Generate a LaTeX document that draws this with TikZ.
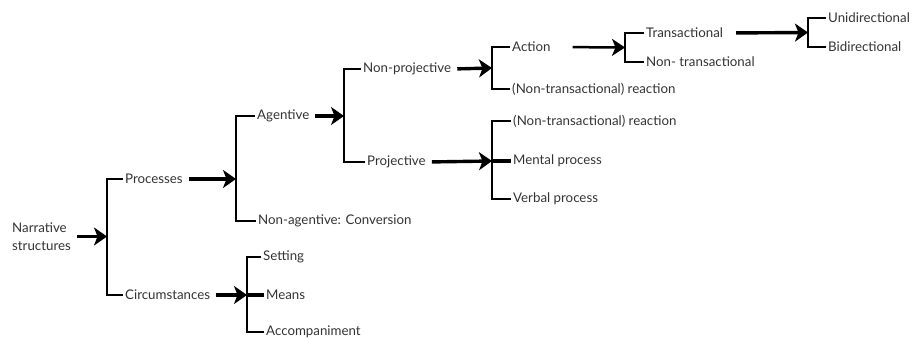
\documentclass[tikz,border=0pt]{standalone}
\usepackage{fontspec}
\setmainfont{Lato}
\usetikzlibrary{arrows.meta}
\begin{document}
\begin{tikzpicture}[x=1pt,y=-1pt,
  lbl/.style={anchor=west, inner sep=2pt, text=black!80, font=\fontsize{13.3}{18}\selectfont},
  brk/.style={line width=2.1pt},
  arr/.style={line width=3.4pt, -{Stealth[length=13pt,width=18pt,inset=3.5pt]}, shorten <=4pt},
  thinarr/.style={line width=2.5pt, -{Stealth[length=13pt,width=17pt,inset=3.5pt]}}]
\useasboundingbox (0,0) rectangle (915,339);
\node[lbl, align=left] (narr) at (10,236.5){Narrative\\structures};
\coordinate (b1) at (107,236.5);
\node[lbl] (proc) at (123,179){Processes};
\node[lbl] (circ) at (123,295){Circumstances};
\draw[brk](proc.west) -| (b1) |- (circ.west);
\draw[arr](narr.east) -- (b1);
\coordinate (b2) at (236,179);
\node[lbl] (agent) at (255,116){Agentive};
\node[lbl] (nonag) at (256,221){Non-agentive: Conversion};
\draw[brk](agent.west) -| (b2) |- (nonag.west);
\draw[arr](proc.east) -- (b2);
\coordinate (b8) at (247,295);
\node[lbl] (sett) at (261,257){Setting};
\node[lbl] (means) at (264,295){Means};
\node[lbl] (accomp) at (264,332){Accompaniment};
\draw[brk](sett.west) -| (b8) |- (accomp.west);
\draw[line width=3.4pt](b8) -- (means.west);
\draw[arr](circ.east) -- (b8);
\coordinate (b3) at (344,116);
\node[lbl] (nonproj) at (361,69){Non-projective};
\node[lbl] (proj) at (365,162){Projective};
\draw[brk](nonproj.west) -| (b3) |- (proj.west);
\draw[arr](agent.east) -- (b3);
\coordinate (b4) at (492,68);
\node[lbl] (action) at (510,47){Action};
\node[lbl] (react1) at (510,89){(Non-transactional) reaction};
\draw[brk](action.west) -| (b4) |- (react1.west);
\draw[arr](nonproj.east) -- (b4);
\coordinate (b5) at (492,161);
\node[lbl] (react2) at (511,121){(Non-transactional) reaction};
\node[lbl] (mental) at (511,161){Mental process};
\node[lbl] (verbal) at (511,199){Verbal process};
\draw[brk](react2.west) -| (b5) |- (verbal.west);
\draw[line width=3.4pt](b5) -- (mental.west);
\draw[arr](proj.east) -- (b5);
\coordinate (b6) at (625,47.5);
\node[lbl] (trans) at (644,33){Transactional};
\node[lbl] (nontrans) at (644,62){Non- transactional};
\draw[brk](trans.west) -| (b6) |- (nontrans.west);
\draw[thinarr, shorten <=20pt](action.east) -- (b6);
\coordinate (b7) at (808,32.5);
\node[lbl] (uni) at (826,18){Unidirectional};
\node[lbl] (bi) at (826,47){Bidirectional};
\draw[brk](uni.west) -| (b7) |- (bi.west);
\draw[arr, shorten <=11pt](trans.east) -- (b7);
\end{tikzpicture}
\end{document}
